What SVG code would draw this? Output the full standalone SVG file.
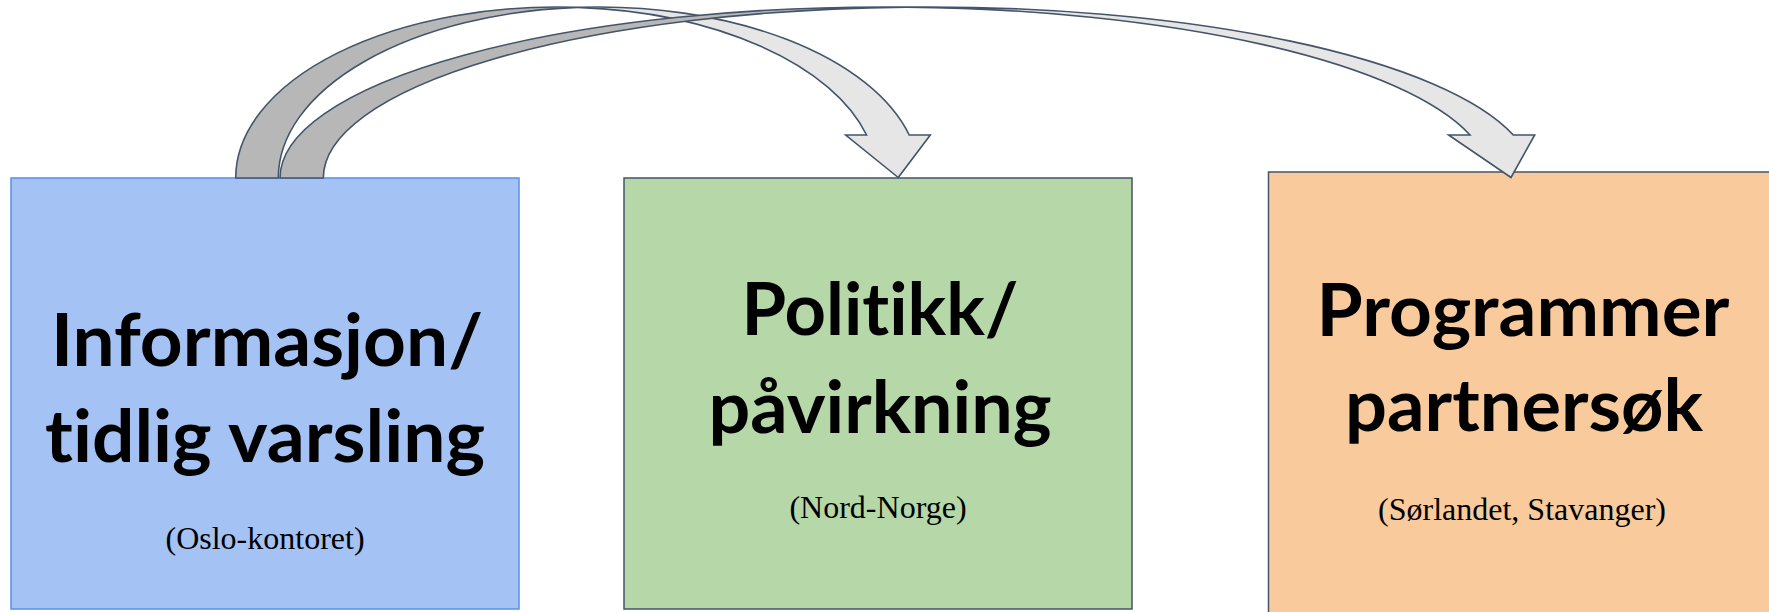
<svg xmlns="http://www.w3.org/2000/svg" width="1769" height="612" viewBox="0 0 1769 612">
  <style>
    .box { stroke-width: 1.5; }
    .title { font-family: Lato, "Open Sans", sans-serif; font-weight: 700; font-size: 72px; fill: #000; text-anchor: middle; font-variant-ligatures: none; }
    .sub { font-family: "Liberation Serif", "Times New Roman", serif; font-size: 32px; fill: #000; text-anchor: middle; }
    .back { fill: #b7b7b7; stroke: #44546a; stroke-width: 1.6; stroke-linejoin: round; }
    .front { fill: #e6e6e6; stroke: #44546a; stroke-width: 1.6; stroke-linejoin: miter; }
  </style>
  <rect width="1769" height="612" fill="#ffffff"/>
  <g id="node-info">
    <rect class="box" x="11" y="178" width="508" height="431" fill="#a4c2f4" stroke="#5b8fe8"/>
    <text class="title" x="267" y="366" textLength="432" lengthAdjust="spacingAndGlyphs">Informasjon/</text>
    <text class="title" x="265" y="462" textLength="440" lengthAdjust="spacingAndGlyphs">tidlig varsling</text>
    <text class="sub" x="265" y="549">(Oslo-kontoret)</text>
  </g>
  <g id="node-politikk">
    <rect class="box" x="624" y="178" width="508" height="431" fill="#b6d7a8" stroke="#44546a"/>
    <text class="title" x="880" y="335" textLength="277" lengthAdjust="spacingAndGlyphs">Politikk/</text>
    <text class="title" x="880" y="433" textLength="343" lengthAdjust="spacingAndGlyphs">påvirkning</text>
    <text class="sub" x="878" y="518">(Nord-Norge)</text>
  </g>
  <g id="node-programmer">
    <rect class="box" x="1268.5" y="172" width="510" height="450" fill="#f9cb9c" stroke="#44546a"/>
    <text class="title" x="1523" y="336" textLength="413" lengthAdjust="spacingAndGlyphs">Programmer</text>
    <text class="title" x="1524" y="431" textLength="358" lengthAdjust="spacingAndGlyphs">partnersøk</text>
    <text class="sub" x="1522" y="520">(Sørlandet, Stavanger)</text>
  </g>
  <g id="connectors">
    <g id="arrow-info-politikk">
      <path class="back" d="M 235.7 178 A 320.6 171 0 0 1 577.6 7.4 A 320.6 171 0 0 0 278.3 178 Z"/>
      <path class="front" d="M 898.2 177.5 L 845.7 135 L 866.6 135 A 320.6 171 0 0 0 577.6 7.4 A 320.6 171 0 0 1 909.2 135 L 930.3 135 Z"/>
    </g>
    <g id="arrow-info-programmer">
      <path class="back" d="M 280 178 A 604.7 171 0 0 1 906.35 7.1 A 604.7 171 0 0 0 323.3 178 Z"/>
      <path class="front" d="M 1511 177.5 L 1448.6 135 L 1470 135 A 604.7 171 0 0 0 906.35 7.1 A 604.7 171 0 0 1 1513.3 135 L 1534.7 135 Z"/>
    </g>
  </g>
</svg>
